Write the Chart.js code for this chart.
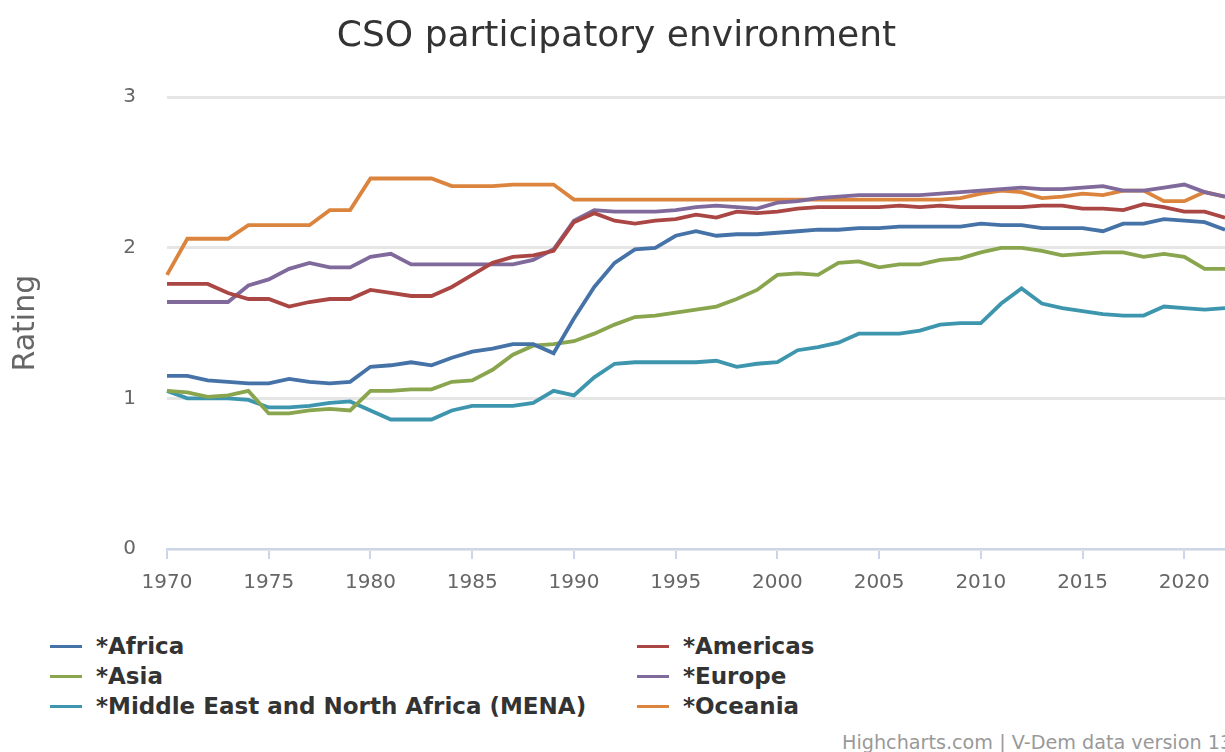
<!DOCTYPE html>
<html>
<head>
<meta charset="utf-8">
<script src="https://cdn.jsdelivr.net/npm/chart.js@4"></script>
<style>
  html, body { margin: 0; padding: 0; background: #fff; overflow: hidden; }
  body { width: 1225px; height: 752px; position: relative; font-family: "DejaVu Sans", sans-serif; }
  #wrap { position: absolute; left: 0; top: 0; width: 1225px; height: 607px; }
  #legend { position: absolute; left: 0; top: 631px; width: 1225px; }
  .item { position: absolute; height: 30px; line-height: 30px; font-weight: bold; font-size: 23px; color: #333; white-space: nowrap; }
  .item span.sym { position: absolute; left: 0; top: 14px; width: 32px; height: 3px; }
  .item span.txt { position: absolute; left: 46px; top: 0; }
  #credits { position: absolute; left: 842px; top: 731px; font-size: 19.2px; color: #999; white-space: nowrap; }
</style>
</head>
<body>
<div id="wrap"><canvas id="chart"></canvas></div>
<div id="legend"></div>
<div id="credits">Highcharts.com | V-Dem data version 13</div>
<script>
const years = [];
for (let y = 1970; y <= 2022; y++) years.push(y);

const africa = [1.15,1.15,1.12,1.11,1.10,1.10,1.13,1.11,1.10,1.11,
  1.21,1.22,1.24,1.22,1.27,1.31,1.33,1.36,1.36,1.30,
  1.53,1.74,1.90,1.99,2.00,2.08,2.11,2.08,2.09,2.09,
  2.10,2.11,2.12,2.12,2.13,2.13,2.14,2.14,2.14,2.14,
  2.16,2.15,2.15,2.13,2.13,2.13,2.11,2.16,2.16,2.19,
  2.18,2.17,2.12];
const americas = [1.76,1.76,1.76,1.70,1.66,1.66,1.61,1.64,1.66,1.66,
  1.72,1.70,1.68,1.68,1.74,1.82,1.90,1.94,1.95,1.98,
  2.17,2.23,2.18,2.16,2.18,2.19,2.22,2.20,2.24,2.23,
  2.24,2.26,2.27,2.27,2.27,2.27,2.28,2.27,2.28,2.27,
  2.27,2.27,2.27,2.28,2.28,2.26,2.26,2.25,2.29,2.27,
  2.24,2.24,2.20];
const asia = [1.05,1.04,1.01,1.02,1.05,0.90,0.90,0.92,0.93,0.92,
  1.05,1.05,1.06,1.06,1.11,1.12,1.19,1.29,1.35,1.36,
  1.38,1.43,1.49,1.54,1.55,1.57,1.59,1.61,1.66,1.72,
  1.82,1.83,1.82,1.90,1.91,1.87,1.89,1.89,1.92,1.93,
  1.97,2.00,2.00,1.98,1.95,1.96,1.97,1.97,1.94,1.96,
  1.94,1.86,1.86];
const europe = [1.64,1.64,1.64,1.64,1.75,1.79,1.86,1.90,1.87,1.87,
  1.94,1.96,1.89,1.89,1.89,1.89,1.89,1.89,1.92,1.99,
  2.18,2.25,2.24,2.24,2.24,2.25,2.27,2.28,2.27,2.26,
  2.30,2.31,2.33,2.34,2.35,2.35,2.35,2.35,2.36,2.37,
  2.38,2.39,2.40,2.39,2.39,2.40,2.41,2.38,2.38,2.40,
  2.42,2.37,2.34];
const mena = [1.05,1.00,1.00,1.00,0.99,0.94,0.94,0.95,0.97,0.98,
  0.92,0.86,0.86,0.86,0.92,0.95,0.95,0.95,0.97,1.05,
  1.02,1.14,1.23,1.24,1.24,1.24,1.24,1.25,1.21,1.23,
  1.24,1.32,1.34,1.37,1.43,1.43,1.43,1.45,1.49,1.50,
  1.50,1.63,1.73,1.63,1.60,1.58,1.56,1.55,1.55,1.61,
  1.60,1.59,1.60];
const oceania = [1.82,2.06,2.06,2.06,2.15,2.15,2.15,2.15,2.25,2.25,
  2.46,2.46,2.46,2.46,2.41,2.41,2.41,2.42,2.42,2.42,
  2.32,2.32,2.32,2.32,2.32,2.32,2.32,2.32,2.32,2.32,
  2.32,2.32,2.32,2.32,2.32,2.32,2.32,2.32,2.32,2.33,
  2.36,2.38,2.37,2.33,2.34,2.36,2.35,2.38,2.38,2.31,
  2.31,2.37,2.34];

const seriesNames = ['*Africa', '*Americas', '*Asia', '*Europe', '*Middle East and North Africa (MENA)', '*Oceania'];
const seriesData = [africa, americas, asia, europe, mena, oceania];
const seriesColors = ['#4572A7', '#AA4643', '#89A54E', '#80699B', '#3D96AE', '#DB843D'];

const FONT = '"DejaVu Sans", sans-serif';

const datasets = seriesNames.map((name, i) => ({
  label: name,
  data: seriesData[i],
  borderColor: seriesColors[i],
  backgroundColor: seriesColors[i],
  borderWidth: 3.8,
  pointRadius: 0,
  tension: 0,
  fill: false
}));

const chart = new Chart(document.getElementById('chart'), {
  type: 'line',
  data: { labels: years, datasets },
  options: {
    responsive: true,
    maintainAspectRatio: false,
    animation: false,
    layout: { padding: { left: 8, right: 0, top: 0, bottom: 0 } },
    plugins: {
      legend: { display: false },
      tooltip: { enabled: false },
      title: {
        display: true,
        text: 'CSO participatory environment',
        color: '#333',
        font: { family: FONT, size: 36, weight: 'normal' },
        padding: { top: 15, bottom: 39 }
      }
    },
    scales: {
      x: {
        offset: false,
        grid: {
          drawOnChartArea: false,
          drawTicks: true,
          tickLength: 10,
          color: '#ccd6eb',
          lineWidth: 2
        },
        border: { color: '#ccd6eb', width: 2 },
        ticks: {
          autoSkip: false,
          maxRotation: 0,
          color: '#666',
          padding: 12,
          font: { family: FONT, size: 20 },
          callback: function (val, idx) {
            return years[idx] % 5 === 0 ? String(years[idx]) : null;
          }
        }
      },
      y: {
        min: 0,
        max: 3,
        afterFit: function (scale) { scale.width = 159; },
        ticks: {
          stepSize: 1,
          color: '#666',
          padding: 31,
          font: { family: FONT, size: 20 }
        },
        grid: { color: '#e6e6e6', lineWidth: 3, drawTicks: false },
        border: { display: false },
        title: {
          display: true,
          text: 'Rating',
          color: '#666',
          font: { family: FONT, size: 30, weight: 'normal' },
          padding: 0
        }
      }
    }
  }
});

// legend in two columns, like the original
const legendBox = document.getElementById('legend');
const colX = [50, 637];
seriesNames.forEach((name, i) => {
  const col = i % 2, row = Math.floor(i / 2);
  const d = document.createElement('div');
  d.className = 'item';
  d.style.left = colX[col] + 'px';
  d.style.top = (row * 30) + 'px';
  d.innerHTML = `<span class="sym" style="background:${seriesColors[i]}"></span><span class="txt">${name}</span>`;
  legendBox.appendChild(d);
});
</script>
</body>
</html>
